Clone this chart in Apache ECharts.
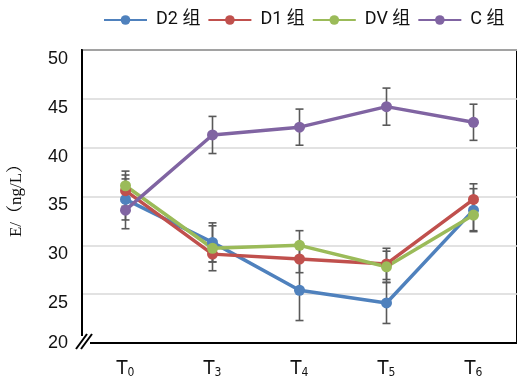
<!DOCTYPE html>
<html>
<head>
<meta charset="utf-8">
<script src="https://cdn.jsdelivr.net/npm/echarts@6/dist/echarts.min.js"></script>
<style>html,body{margin:0;padding:0;background:#fff;}#c{width:517px;height:382px;}</style>
</head>
<body>
<div id="c"></div>
<script>
var categories = ['T0', 'T3', 'T4', 'T5', 'T6'];
var yTicks = [20, 25, 30, 35, 40, 45, 50];
var seriesNames = ['D2 组', 'D1 组', 'DV 组', 'C 组'];
var d2 = [34.7, 30.3, 25.4, 24.1, 33.6];
var d1 = [35.6, 29.1, 28.6, 28.1, 34.7];
var dv = [36.1, 29.7, 30.0, 27.8, 33.1];
var cg = [33.6, 41.3, 42.1, 44.2, 42.6];
var d2Err = [2.1, 2.0, 3.1, 2.1, 2.2];
var d1Err = [1.6, 0.8, 1.4, 1.6, 1.6];
var dvErr = [1.5, 2.3, 1.5, 1.6, 1.6];
var cErr = [1.9, 1.9, 1.85, 1.9, 1.85];
var colors = ['#4F81BD', '#C0504D', '#9BBB59', '#8064A2'];

var values = [d2, d1, dv, cg];
var errs = [d2Err, d1Err, dvErr, cErr];

var chart = echarts.init(document.getElementById('c'));
var series = [];
values.forEach(function (vals, si) {
  series.push({
    name: seriesNames[si],
    type: 'line',
    data: vals,
    symbol: 'circle',
    symbolSize: 11,
    z: 3,
    lineStyle: { width: 3.5, color: colors[si] },
    itemStyle: { color: colors[si] }
  });
});
values.forEach(function (vals, si) {
  series.push({
    type: 'custom',
    z: 2,
    silent: true,
    data: vals.map(function (v, i) { return [i, v - errs[si][i], v + errs[si][i]]; }),
    renderItem: function (params, api) {
      var lo = api.coord([api.value(0), api.value(1)]);
      var hi = api.coord([api.value(0), api.value(2)]);
      var hw = 4;
      var st = { stroke: '#595959', lineWidth: 1.6 };
      return {
        type: 'group',
        children: [
          { type: 'line', shape: { x1: hi[0], y1: hi[1], x2: lo[0], y2: lo[1] }, style: st },
          { type: 'line', shape: { x1: hi[0] - hw, y1: hi[1], x2: hi[0] + hw, y2: hi[1] }, style: st },
          { type: 'line', shape: { x1: lo[0] - hw, y1: lo[1], x2: lo[0] + hw, y2: lo[1] }, style: st }
        ]
      };
    }
  });
});

chart.setOption({
  animation: false,
  color: colors,
  legend: {
    data: seriesNames,
    left: 98,
    top: 6,
    itemWidth: 43,
    itemHeight: 12,
    itemGap: 7,
    textStyle: { fontSize: 18, color: '#111', fontFamily: 'Roboto, "Noto Sans CJK SC", sans-serif', padding: [0, 0, 0, 4] }
  },
  grid: {
    left: 82, top: 50, width: 440, height: 293,
    show: true, borderColor: '#000', borderWidth: 2
  },
  xAxis: {
    type: 'category',
    data: categories,
    boundaryGap: true,
    axisLine: { show: true, lineStyle: { color: '#000', width: 2 } },
    axisTick: { show: false },
    axisLabel: {
      margin: 14,
      formatter: function (v) { return '{a|' + v.charAt(0) + '}{b|' + v.slice(1) + '}'; },
      rich: {
        a: { fontSize: 20, color: '#111', fontFamily: '"DejaVu Sans Condensed", "Liberation Sans Narrow", sans-serif', verticalAlign: 'bottom' },
        b: { fontSize: 12, color: '#111', fontFamily: '"DejaVu Sans Condensed", sans-serif', padding: [10, 0, 0, 0], verticalAlign: 'bottom' }
      }
    }
  },
  yAxis: {
    type: 'value',
    min: 20, max: 50, interval: 5,
    name: 'E/（ng/L）',
    nameLocation: 'middle',
    nameGap: 57,
    nameRotate: 90,
    nameTextStyle: { fontSize: 17, color: '#111', fontFamily: '"Liberation Serif", "Noto Serif CJK SC", serif' },
    axisLine: { show: true, lineStyle: { color: '#000', width: 2 } },
    axisTick: { show: false },
    splitLine: { lineStyle: { color: '#d9d9d9', width: 1.5 } },
    axisLabel: {
      margin: 14,
      formatter: function (v) { return v === 20 ? '{z|' + v + '}' : '{a|' + v + '}'; },
      rich: {
        a: { fontSize: 18, color: '#111', fontFamily: '"Liberation Sans", Arial, sans-serif', padding: [18, 0, 0, 0] },
        z: { fontSize: 18, color: '#111', fontFamily: '"Liberation Sans", Arial, sans-serif' }
      }
    }
  },
  graphic: [
    { type: 'rect', shape: { x: 74, y: 336, width: 16, height: 12 }, style: { fill: '#fff' }, z: 100 },
    { type: 'line', shape: { x1: 76, y1: 349, x2: 87, y2: 334 }, style: { stroke: '#000', lineWidth: 2 }, z: 101 },
    { type: 'line', shape: { x1: 81, y1: 349, x2: 92, y2: 334 }, style: { stroke: '#000', lineWidth: 2 }, z: 101 }
  ],
  series: series
});
</script>
</body>
</html>
